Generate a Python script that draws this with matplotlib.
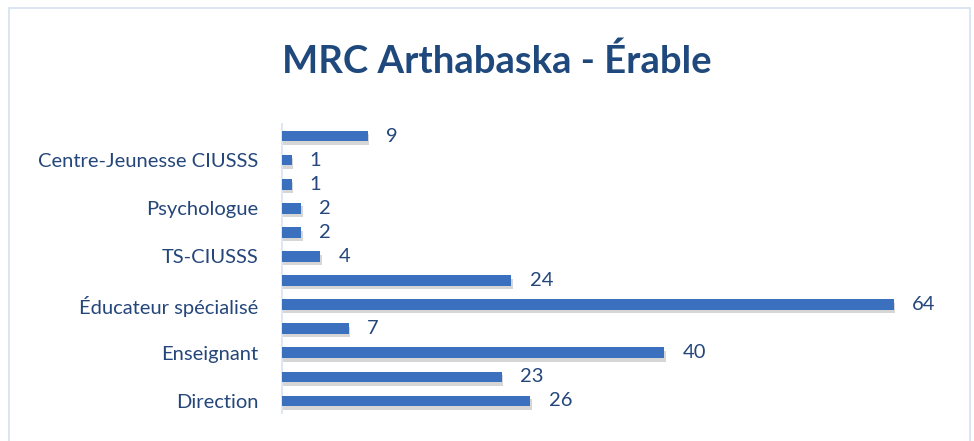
import matplotlib as mpl
import matplotlib.pyplot as plt
import matplotlib.patheffects as pe

mpl.use('Agg')

# bas vers le haut, comme dans Excel
categories = ["Direction", "", "Enseignant", "", "Éducateur spécialisé", "",
              "TS-CIUSSS", "", "Psychologue", "", "Centre-Jeunesse CIUSSS", ""]
valeurs = [26, 23, 40, 7, 64, 24, 4, 2, 2, 1, 1, 9]
titre = "MRC Arthabaska - Érable"

plt.rcParams['font.family'] = ['Lato', 'DejaVu Sans']

fig = plt.figure(figsize=(9.74, 4.41), dpi=100)
W, H = 974, 441
ax = fig.add_axes([282 / W, 1 - 413 / H, (951 - 282) / W, (413 - 124) / H])

pos = list(range(len(valeurs)))
barres = ax.barh(pos, valeurs, height=0.44, color="#3A70BE", zorder=3)
for b in barres:
    b.set_path_effects([pe.SimplePatchShadow(offset=(1, -2.5), shadow_rgbFace="#8a8a8a", alpha=0.35),
                        pe.Normal()])

for y, v in zip(pos, valeurs):
    ax.text(v + 1.9, y, str(v), va="center", ha="left", fontsize=14.5, color="#24467A")

ax.set_xlim(0, 70)
ax.set_ylim(-0.5, len(valeurs) - 0.5)
ax.set_yticks(pos)
ax.set_yticklabels(categories, fontsize=14.5, color="#24467A")
ax.tick_params(axis="y", length=0, pad=17)
ax.set_xticks([])
for s in ["top", "right", "bottom"]:
    ax.spines[s].set_visible(False)
ax.spines["left"].set_color("#D9E2F0")
ax.spines["left"].set_linewidth(1.2)

fig.text(497 / W, 1 - 61 / H, titre, ha="center", va="center", fontsize=27.5,
         fontweight="bold", color="#1F497D")

# cadre du graphique
cadre = plt.Rectangle((9 / W, -0.01), (970 - 9) / W, 1 - 8 / H + 0.01, transform=fig.transFigure,
                      fill=False, edgecolor="#D5E1F0", linewidth=1.2)
fig.patches.append(cadre)

fig.savefig("out.png", dpi=100)
